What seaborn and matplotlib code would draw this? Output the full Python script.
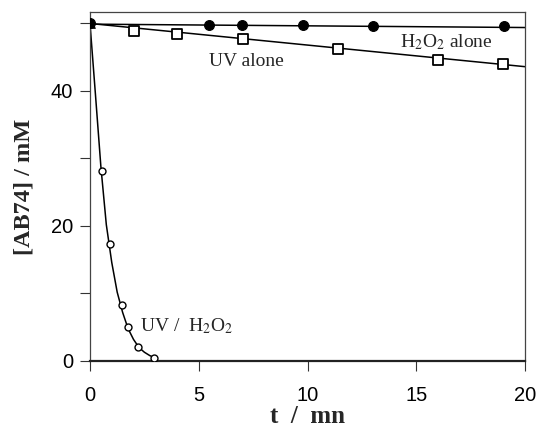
import matplotlib
matplotlib.use("Agg")
import matplotlib.pyplot as plt
import seaborn as sns
import pandas as pd

sns.set_theme(style="white")
plt.rcParams['font.family'] = ['Liberation Sans', 'DejaVu Sans']
plt.rcParams['mathtext.fontset'] = 'stix'

# H2O2 alone (filled circles)
h2o2_t = [0.0, 5.47, 7.0, 9.78, 13.0, 19.03]
h2o2_c = [50.0, 49.8, 49.8, 49.8, 49.7, 49.6]
h2o2_fit_t = [0.0, 20.0]
h2o2_fit_c = [49.9, 49.4]

# UV alone (open squares, filled triangle at t=0)
uv_t = [2.04, 3.98, 7.05, 11.4, 16.0, 19.0]
uv_c = [48.9, 48.5, 47.7, 46.2, 44.6, 44.0]
uv0_t = [0.0]
uv0_c = [50.0]
uv_fit_t = [0.0, 20.0]
uv_fit_c = [50.0, 43.6]

# UV / H2O2 (small open circles)
uvh_t = [0.54, 0.92, 1.46, 1.73, 2.22, 2.94]
uvh_c = [28.2, 17.4, 8.3, 5.0, 2.1, 0.5]
uvh_fit_t = [0.0, 0.25, 0.5, 0.75, 1.0, 1.25, 1.5, 1.75, 2.0, 2.25, 2.5, 2.75, 3.0]
uvh_fit_c = [50.0, 39.5, 28.8, 20.2, 14.6, 10.2, 7.2, 4.8, 3.2, 2.0, 1.3, 0.8, 0.45]

x_ticks = [0, 5, 10, 15, 20]
y_ticks = [0, 10, 20, 30, 40, 50]
y_labels = ['0', '', '20', '', '40', '']

fig = plt.figure(figsize=(5.37, 4.34), dpi=100)
ax = fig.add_axes([90/537, 73/434, 435/537, 349/434])

lk = dict(color='black', linewidth=1.1, legend=False, ax=ax, estimator=None, sort=False)
sns.lineplot(x=h2o2_fit_t, y=h2o2_fit_c, **lk)
sns.lineplot(x=uv_fit_t, y=uv_fit_c, **lk)
sns.lineplot(x=uvh_fit_t, y=uvh_fit_c, **lk)

sns.scatterplot(x=h2o2_t, y=h2o2_c, marker='o', s=50, color='black',
                edgecolor='black', linewidth=0.8, ax=ax, zorder=5)
sns.scatterplot(x=uv_t, y=uv_c, marker='s', s=52, facecolor='white',
                edgecolor='black', linewidth=1.3, ax=ax, zorder=5)
sns.scatterplot(x=uv0_t, y=uv0_c, marker='^', s=50, color='black',
                edgecolor='black', ax=ax, zorder=6)
sns.scatterplot(x=uvh_t, y=uvh_c, marker='o', s=25, facecolor='white',
                edgecolor='black', linewidth=1.0, ax=ax, zorder=5)

ax.set_xlim(0, 20)
ax.set_ylim(0, 51.7)
ax.set_xticks(x_ticks)
ax.set_xticklabels([str(v) for v in x_ticks])
ax.set_yticks(y_ticks)
ax.set_yticklabels(y_labels)
ax.tick_params(direction='out', length=7, width=0.8, colors='#333333',
               labelcolor='black', labelsize=14.5, left=True, bottom=True)
ax.tick_params(axis='x', pad=11)
ax.tick_params(axis='y', pad=5)

for s in ax.spines.values():
    s.set_color('#444444')
    s.set_linewidth(0.9)
ax.spines['bottom'].set_color('#222222')
ax.spines['bottom'].set_linewidth(1.6)

serif = ['Liberation Serif', 'DejaVu Serif']
ax.set_xlabel('t  /  mn', family=serif, fontweight='bold', fontsize=18, labelpad=0)
ax.set_ylabel('[AB74] / mM', family=serif, fontweight='bold', fontsize=17.5, labelpad=12)

ax.text(14.25, 47.3, r'H$_2$O$_2$ alone', family=serif, fontsize=14, va='center', ha='left')
ax.text(5.47, 44.3, 'UV alone', family=serif, fontsize=14, va='center', ha='left')
ax.text(2.3, 5.1, r'UV /  H$_2$O$_2$', family=serif, fontsize=14, va='center', ha='left')

fig.savefig('out.png', dpi=100)
